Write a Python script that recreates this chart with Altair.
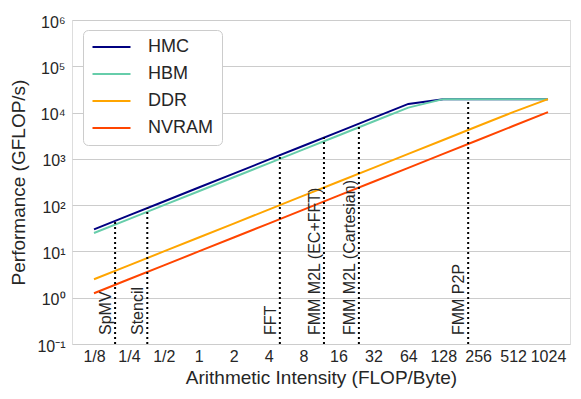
import altair as alt
import pandas as pd

# ---- data ----
intensity = [1/8, 1/4, 1/2, 1, 2, 4, 8, 16, 32, 64, 128, 256, 512, 1024]
x_tick_labels = ["1/8", "1/4", "1/2", "1", "2", "4", "8", "16", "32", "64",
                 "128", "256", "512", "1024"]
memories = ["HMC", "HBM", "DDR", "NVRAM"]
mem_colors = ["#000080", "#66cdaa", "#ffa500", "#ff4500"]
hmc = [30, 60, 120, 240, 480, 960, 1920, 3840, 7680, 15360, 19500, 19500, 19500, 19500]
hbm = [25, 50, 100, 200, 400, 800, 1600, 3200, 6400, 12800, 19500, 19500, 19500, 19500]
ddr = [2.5, 5, 10, 20, 40, 80, 160, 320, 640, 1280, 2560, 5120, 10240, 19500]
nvram = [1.25, 2.5, 5, 10, 20, 40, 80, 160, 320, 640, 1280, 2560, 5120, 10240]

kernels = ["SpMV", "Stencil", "FFT", "FMM M2L (EC+FFT)", "FMM M2L (Cartesian)", "FMM P2P"]
kernel_ai = [0.19, 0.36, 5, 12, 24, 210]
kernel_top = [45.6, 86.4, 1200, 2880, 5760, 19500]
kernel_bottom = [0.1, 0.1, 0.1, 0.1, 0.1, 0.1]

y_tick_values = [0.1, 1, 10, 100, 1000, 10000, 100000, 1000000]
y_tick_labels = ["10⁻¹", "10⁰", "10¹", "10²", "10³", "10⁴", "10⁵", "10⁶"]

# ---- tables ----
series = {"HMC": hmc, "HBM": hbm, "DDR": ddr, "NVRAM": nvram}
rows = []
for m in memories:
    for xi, yi in zip(intensity, series[m]):
        rows.append({"ai": xi, "perf": yi, "mem": m})
lines_df = pd.DataFrame(rows)
kern_df = pd.DataFrame({"kernel": kernels, "ai": kernel_ai,
                        "top": kernel_top, "bottom": kernel_bottom})

FONT = "Liberation Sans"
TXT = "#262626"

x_label_expr = ("[" + ", ".join(f"'{l}'" for l in x_tick_labels) + "]"
                "[round(log(datum.value)/LN2) + 3]")
y_label_expr = ("[" + ", ".join(f"'{l}'" for l in y_tick_labels) + "]"
                "[round(log(datum.value)/LN10) + 1]")

x_scale = alt.Scale(type="log", base=2, domain=[2 ** -3.63, 2 ** 10.63], nice=False)
y_scale = alt.Scale(type="log", domain=[0.1, 1e6], nice=False)

x_axis = alt.Axis(values=intensity, labelExpr=x_label_expr, title="Arithmetic Intensity (FLOP/Byte)",
                  grid=False, ticks=False, domain=False, labelPadding=4, labelFontSize=16,
                  labelFont=FONT, labelColor=TXT, titleFont=FONT, titleFontSize=19,
                  titleFontWeight="normal", titleColor=TXT, titleY=39, titleBaseline="alphabetic")
y_axis = alt.Axis(values=y_tick_values, labelExpr=y_label_expr, title="Performance (GFLOP/s)",
                  grid=True, gridColor="#cccccc", ticks=False, domain=False, labelPadding=7,
                  labelFontSize=16, labelFont=FONT, labelColor=TXT, labelOffset=2,
                  titleFont=FONT, titleFontSize=19, titleFontWeight="normal", titleColor=TXT,
                  titleX=-44, titleY=162, titleAngle=270, titleAlign="center", titleBaseline="bottom")

color = alt.Color("mem:N", scale=alt.Scale(domain=memories, range=mem_colors),
                  legend=alt.Legend(orient="none", legendX=11, legendY=10, title=None,
                                    symbolType="stroke", symbolSize=1444, symbolStrokeWidth=2.2,
                                    labelFontSize=18, labelFont=FONT, labelColor=TXT,
                                    clipHeight=18, rowPadding=9, padding=8, labelOffset=16,
                                    fillColor="white", strokeColor="#cccccc", cornerRadius=5))

base = alt.Chart(lines_df).mark_line(strokeWidth=2).encode(
    x=alt.X("ai:Q", scale=x_scale, axis=x_axis),
    y=alt.Y("perf:Q", scale=y_scale, axis=y_axis),
    color=color,
)
line_layers = [base.transform_filter(alt.datum.mem == m) for m in memories]

rules = alt.Chart(kern_df).mark_rule(color="black", strokeWidth=2, strokeDash=[2, 3]).encode(
    x=alt.X("ai:Q", scale=x_scale),
    y=alt.Y("bottom:Q", scale=y_scale),
    y2="top:Q",
)
texts = alt.Chart(kern_df).mark_text(angle=270, align="left", baseline="alphabetic",
                                     dx=9, dy=-4, font=FONT, fontSize=16, color=TXT).encode(
    x=alt.X("ai:Q", scale=x_scale),
    y=alt.Y("bottom:Q", scale=y_scale),
    text="kernel:N",
)

chart = alt.layer(*line_layers, rules, texts).properties(
    width=498, height=324,
    autosize=alt.AutoSizeParams(type="none"),
    padding={"left": 64, "top": 12, "right": 3, "bottom": 45},
).configure_view(stroke="#cccccc", strokeWidth=1).configure(background="white")

chart.save("out.html", embed_options={"renderer": "svg", "actions": False})
